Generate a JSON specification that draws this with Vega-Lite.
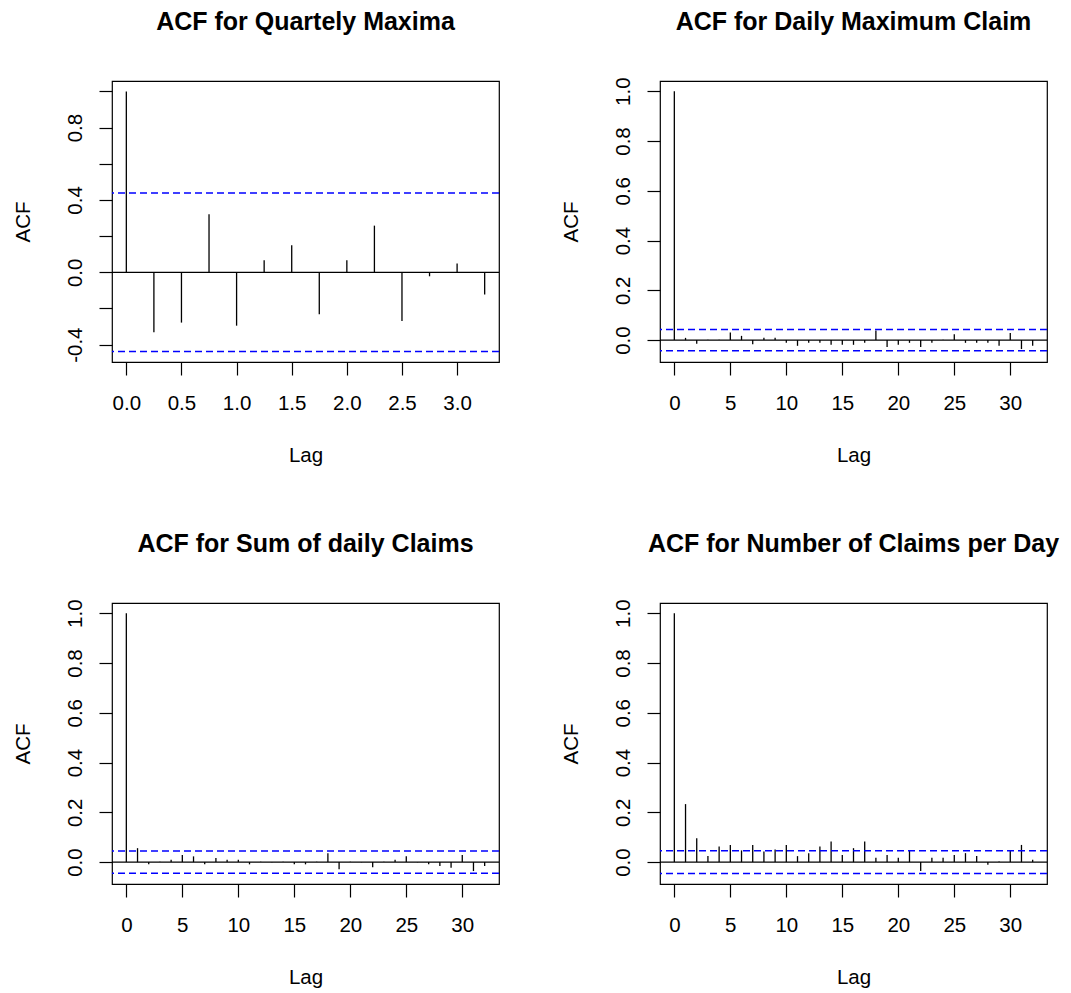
{
  "$schema": "https://vega.github.io/schema/vega-lite/v6.json",
  "background": "white",
  "padding": {"left": 12, "top": 9, "right": 0, "bottom": 0},
  "datasets": {
    "quarterly": [
      {"lag": 0, "acf": 1}, {"lag": 0.25, "acf": -0.332}, {"lag": 0.5, "acf": -0.278}, {"lag": 0.75, "acf": 0.321},
      {"lag": 1, "acf": -0.295}, {"lag": 1.25, "acf": 0.066}, {"lag": 1.5, "acf": 0.149}, {"lag": 1.75, "acf": -0.232},
      {"lag": 2, "acf": 0.066}, {"lag": 2.25, "acf": 0.258}, {"lag": 2.5, "acf": -0.269}, {"lag": 2.75, "acf": -0.022},
      {"lag": 3, "acf": 0.048}, {"lag": 3.25, "acf": -0.122}
    ],
    "dailyMax": [
      {"lag": 0, "acf": 1}, {"lag": 1, "acf": 0.009}, {"lag": 2, "acf": -0.015}, {"lag": 3, "acf": 0.001},
      {"lag": 4, "acf": 0.001}, {"lag": 5, "acf": 0.031}, {"lag": 6, "acf": 0.017}, {"lag": 7, "acf": -0.017},
      {"lag": 8, "acf": 0.009}, {"lag": 9, "acf": 0.009}, {"lag": 10, "acf": -0.011}, {"lag": 11, "acf": -0.023},
      {"lag": 12, "acf": -0.011}, {"lag": 13, "acf": -0.011}, {"lag": 14, "acf": -0.019}, {"lag": 15, "acf": -0.019},
      {"lag": 16, "acf": -0.019}, {"lag": 17, "acf": -0.011}, {"lag": 18, "acf": 0.039}, {"lag": 19, "acf": -0.028},
      {"lag": 20, "acf": -0.019}, {"lag": 21, "acf": -0.011}, {"lag": 22, "acf": -0.028}, {"lag": 23, "acf": -0.011},
      {"lag": 24, "acf": 0.001}, {"lag": 25, "acf": 0.023}, {"lag": 26, "acf": -0.011}, {"lag": 27, "acf": -0.011},
      {"lag": 28, "acf": -0.011}, {"lag": 29, "acf": -0.023}, {"lag": 30, "acf": 0.029}, {"lag": 31, "acf": -0.036},
      {"lag": 32, "acf": -0.023}
    ],
    "dailySum": [
      {"lag": 0, "acf": 1}, {"lag": 1, "acf": 0.056}, {"lag": 2, "acf": -0.009}, {"lag": 3, "acf": 0.001},
      {"lag": 4, "acf": 0.009}, {"lag": 5, "acf": 0.029}, {"lag": 6, "acf": 0.023}, {"lag": 7, "acf": -0.009},
      {"lag": 8, "acf": 0.016}, {"lag": 9, "acf": 0.009}, {"lag": 10, "acf": 0.009}, {"lag": 11, "acf": -0.009},
      {"lag": 12, "acf": 0.001}, {"lag": 13, "acf": -0.001}, {"lag": 14, "acf": 0.001}, {"lag": 15, "acf": -0.009},
      {"lag": 16, "acf": -0.009}, {"lag": 17, "acf": 0.001}, {"lag": 18, "acf": 0.036}, {"lag": 19, "acf": -0.029},
      {"lag": 20, "acf": 0.001}, {"lag": 21, "acf": -0.001}, {"lag": 22, "acf": -0.021}, {"lag": 23, "acf": 0.001},
      {"lag": 24, "acf": 0.009}, {"lag": 25, "acf": 0.023}, {"lag": 26, "acf": -0.001}, {"lag": 27, "acf": -0.009},
      {"lag": 28, "acf": -0.016}, {"lag": 29, "acf": -0.023}, {"lag": 30, "acf": 0.029}, {"lag": 31, "acf": -0.036},
      {"lag": 32, "acf": -0.016}
    ],
    "dailyCount": [
      {"lag": 0, "acf": 1}, {"lag": 1, "acf": 0.233}, {"lag": 2, "acf": 0.096}, {"lag": 3, "acf": 0.024},
      {"lag": 4, "acf": 0.063}, {"lag": 5, "acf": 0.069}, {"lag": 6, "acf": 0.047}, {"lag": 7, "acf": 0.069},
      {"lag": 8, "acf": 0.043}, {"lag": 9, "acf": 0.051}, {"lag": 10, "acf": 0.069}, {"lag": 11, "acf": 0.024},
      {"lag": 12, "acf": 0.036}, {"lag": 13, "acf": 0.063}, {"lag": 14, "acf": 0.083}, {"lag": 15, "acf": 0.029},
      {"lag": 16, "acf": 0.056}, {"lag": 17, "acf": 0.083}, {"lag": 18, "acf": 0.017}, {"lag": 19, "acf": 0.029},
      {"lag": 20, "acf": 0.017}, {"lag": 21, "acf": 0.047}, {"lag": 22, "acf": -0.036}, {"lag": 23, "acf": 0.017},
      {"lag": 24, "acf": 0.017}, {"lag": 25, "acf": 0.029}, {"lag": 26, "acf": 0.036}, {"lag": 27, "acf": 0.024},
      {"lag": 28, "acf": -0.011}, {"lag": 29, "acf": 0.002}, {"lag": 30, "acf": 0.047}, {"lag": 31, "acf": 0.069},
      {"lag": 32, "acf": 0.009}
    ],
    "single": [{}]
  },
  "columns": 2,
  "spacing": {"row": 241, "column": 161},
  "bounds": "flush",
  "concat": [
    {
      "title": {"text": "ACF for Quartely Maxima"},
      "width": 387,
      "height": 281,
      "layer": [
        {
          "data": {"name": "quarterly"},
          "mark": {"type": "rule", "color": "black", "strokeWidth": 1.3},
          "encoding": {
            "x": {"field": "lag", "type": "quantitative",
                  "scale": {"domain": [-0.13, 3.38], "nice": false, "zero": false},
                  "axis": {"title": "Lag", "values": [0, 0.5, 1, 1.5, 2, 2.5, 3], "format": ".1f"}},
            "y": {"field": "acf", "type": "quantitative",
                  "scale": {"domain": [-0.4958, 1.0575], "nice": false, "zero": false},
                  "axis": {"title": "ACF", "values": [-0.4, -0.2, 0, 0.2, 0.4, 0.6, 0.8, 1.0],
                           "labelExpr": "abs(round(datum.value * 10)) % 4 == 0 ? (datum.value < -0.01 ? '-' : '') + format(abs(datum.value), '.1f') : ''"}},
            "y2": {"datum": 0}
          }
        },
        {"data": {"name": "single"}, "mark": {"type": "rule", "color": "black", "strokeWidth": 1.2}, "encoding": {"y": {"datum": 0}}},
        {"data": {"name": "single"}, "mark": {"type": "rule", "color": "blue", "strokeWidth": 1.5, "strokeDash": [7, 4]}, "encoding": {"y": {"datum": 0.4383}}},
        {"data": {"name": "single"}, "mark": {"type": "rule", "color": "blue", "strokeWidth": 1.5, "strokeDash": [7, 4]}, "encoding": {"y": {"datum": -0.4383}}}
      ]
    },
    {
      "title": {"text": "ACF for Daily Maximum Claim", "dy": 4},
      "width": 387,
      "height": 281,
      "layer": [
        {
          "data": {"name": "dailyMax"},
          "mark": {"type": "rule", "color": "black", "strokeWidth": 1.3},
          "encoding": {
            "x": {"field": "lag", "type": "quantitative",
                  "scale": {"domain": [-1.28, 33.28], "nice": false, "zero": false},
                  "axis": {"title": "Lag", "values": [0, 5, 10, 15, 20, 25, 30]}},
            "y": {"field": "acf", "type": "quantitative",
                  "scale": {"domain": [-0.088, 1.041], "nice": false, "zero": false},
                  "axis": {"title": "ACF", "values": [0, 0.2, 0.4, 0.6, 0.8, 1.0], "format": ".1f"}},
            "y2": {"datum": 0}
          }
        },
        {"data": {"name": "single"}, "mark": {"type": "rule", "color": "black", "strokeWidth": 1.2}, "encoding": {"y": {"datum": 0}}},
        {"data": {"name": "single"}, "mark": {"type": "rule", "color": "blue", "strokeWidth": 1.5, "strokeDash": [7, 4]}, "encoding": {"y": {"datum": 0.043}}},
        {"data": {"name": "single"}, "mark": {"type": "rule", "color": "blue", "strokeWidth": 1.5, "strokeDash": [7, 4]}, "encoding": {"y": {"datum": -0.043}}}
      ]
    },
    {
      "title": {"text": "ACF for Sum of daily Claims", "dy": 4},
      "width": 387,
      "height": 281,
      "layer": [
        {
          "data": {"name": "dailySum"},
          "mark": {"type": "rule", "color": "black", "strokeWidth": 1.3},
          "encoding": {
            "x": {"field": "lag", "type": "quantitative",
                  "scale": {"domain": [-1.28, 33.28], "nice": false, "zero": false},
                  "axis": {"title": "Lag", "values": [0, 5, 10, 15, 20, 25, 30]}},
            "y": {"field": "acf", "type": "quantitative",
                  "scale": {"domain": [-0.088, 1.041], "nice": false, "zero": false},
                  "axis": {"title": "ACF", "values": [0, 0.2, 0.4, 0.6, 0.8, 1.0], "format": ".1f"}},
            "y2": {"datum": 0}
          }
        },
        {"data": {"name": "single"}, "mark": {"type": "rule", "color": "black", "strokeWidth": 1.2}, "encoding": {"y": {"datum": 0}}},
        {"data": {"name": "single"}, "mark": {"type": "rule", "color": "blue", "strokeWidth": 1.5, "strokeDash": [7, 4]}, "encoding": {"y": {"datum": 0.045}}},
        {"data": {"name": "single"}, "mark": {"type": "rule", "color": "blue", "strokeWidth": 1.5, "strokeDash": [7, 4]}, "encoding": {"y": {"datum": -0.045}}}
      ]
    },
    {
      "title": {"text": "ACF for Number of Claims per Day", "dy": 4},
      "width": 387,
      "height": 281,
      "layer": [
        {
          "data": {"name": "dailyCount"},
          "mark": {"type": "rule", "color": "black", "strokeWidth": 1.3},
          "encoding": {
            "x": {"field": "lag", "type": "quantitative",
                  "scale": {"domain": [-1.28, 33.28], "nice": false, "zero": false},
                  "axis": {"title": "Lag", "values": [0, 5, 10, 15, 20, 25, 30]}},
            "y": {"field": "acf", "type": "quantitative",
                  "scale": {"domain": [-0.088, 1.041], "nice": false, "zero": false},
                  "axis": {"title": "ACF", "values": [0, 0.2, 0.4, 0.6, 0.8, 1.0], "format": ".1f"}},
            "y2": {"datum": 0}
          }
        },
        {"data": {"name": "single"}, "mark": {"type": "rule", "color": "black", "strokeWidth": 1.2}, "encoding": {"y": {"datum": 0}}},
        {"data": {"name": "single"}, "mark": {"type": "rule", "color": "blue", "strokeWidth": 1.5, "strokeDash": [7, 4]}, "encoding": {"y": {"datum": 0.046}}},
        {"data": {"name": "single"}, "mark": {"type": "rule", "color": "blue", "strokeWidth": 1.5, "strokeDash": [7, 4]}, "encoding": {"y": {"datum": -0.046}}}
      ]
    }
  ],
  "config": {
    "font": "Liberation Sans",
    "view": {"stroke": "black", "strokeWidth": 1.2},
    "title": {"font": "Liberation Sans", "fontSize": 25, "fontWeight": "bold", "color": "black",
              "anchor": "middle", "frame": "group", "baseline": "alphabetic", "offset": 46},
    "axis": {"grid": false, "domain": false, "ticks": true, "tickColor": "black", "tickSize": 13, "tickWidth": 1.2,
             "labelFont": "Liberation Sans", "labelFontSize": 20.5, "labelColor": "black",
             "labelOverlap": false, "labelFlush": false, "labelBound": false,
             "titleFont": "Liberation Sans", "titleFontSize": 20.5, "titleFontWeight": "normal", "titleColor": "black"},
    "axisX": {"labelAngle": 0, "labelAlign": "center", "labelBaseline": "alphabetic", "labelPadding": 34.5,
              "titleX": 193.5, "titleY": 99.4, "titleAlign": "center", "titleBaseline": "alphabetic"},
    "axisY": {"labelAngle": 270, "labelAlign": "center", "labelBaseline": "alphabetic", "labelPadding": 17.3,
              "titleAngle": 270, "titleX": -82.5, "titleY": 140.5, "titleAlign": "center", "titleBaseline": "alphabetic"}
  }
}
